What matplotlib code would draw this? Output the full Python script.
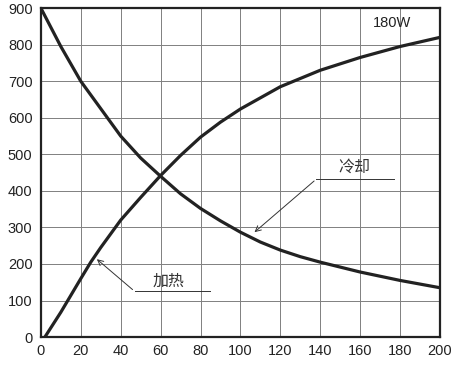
import matplotlib
matplotlib.use("Agg")
import matplotlib.pyplot as plt

plt.rcParams['font.family'] = ['Liberation Sans', 'Noto Sans CJK SC', 'DejaVu Sans']

# heating curve (加热)
heat_x = [2, 10, 20, 25, 30, 40, 50, 60, 70, 80, 90, 100, 120, 140, 160, 180, 200]
heat_y = [0, 68, 160, 205, 245, 320, 382, 442, 497, 547, 588, 624, 685, 730, 765, 795, 820]

# cooling curve (冷却)
cool_x = [0, 10, 20, 30, 40, 50, 60, 70, 80, 90, 100, 110, 120, 130, 140, 160, 180, 200]
cool_y = [900, 795, 700, 625, 550, 490, 440, 392, 352, 318, 287, 260, 238, 220, 205, 178, 155, 135]

x_ticks = list(range(0, 201, 20))
y_ticks = list(range(0, 901, 100))

fig = plt.figure(figsize=(4.7, 3.7), dpi=100)
ax = fig.add_axes([0.087, 0.089, 0.849, 0.889])

ax.plot(heat_x, heat_y, color='#222222', lw=2.3, solid_capstyle='round')
ax.plot(cool_x, cool_y, color='#222222', lw=2.3, solid_capstyle='round')

ax.set_xlim(0, 200)
ax.set_ylim(0, 900)
ax.set_xticks(x_ticks)
ax.set_yticks(y_ticks)
ax.grid(True, color='#808080', lw=0.7)
ax.tick_params(length=0, labelsize=10.5, colors='#222222')
ax.tick_params(axis='x', pad=5)
ax.tick_params(axis='y', pad=6)
for s in ax.spines.values():
    s.set_linewidth(1.6)
    s.set_color('#222222')

ax.text(176, 860, '180W', ha='center', va='center', fontsize=10.5, color='#222222')

# 冷却 label with leader
ax.plot([138, 177], [432, 432], color='#333333', lw=0.7)
ax.annotate('', xy=(106, 282), xytext=(138, 432),
            arrowprops=dict(arrowstyle='->', color='#333333', lw=0.7))
ax.text(157, 465, '冷却', ha='center', va='center', fontsize=11.5, color='#333333')

# 加热 label with leader
ax.plot([47, 85], [125, 125], color='#333333', lw=0.7)
ax.annotate('', xy=(27, 218), xytext=(47, 125),
            arrowprops=dict(arrowstyle='->', color='#333333', lw=0.7))
ax.text(64, 152, '加热', ha='center', va='center', fontsize=11.5, color='#333333')

fig.savefig('out.png', dpi=100)
